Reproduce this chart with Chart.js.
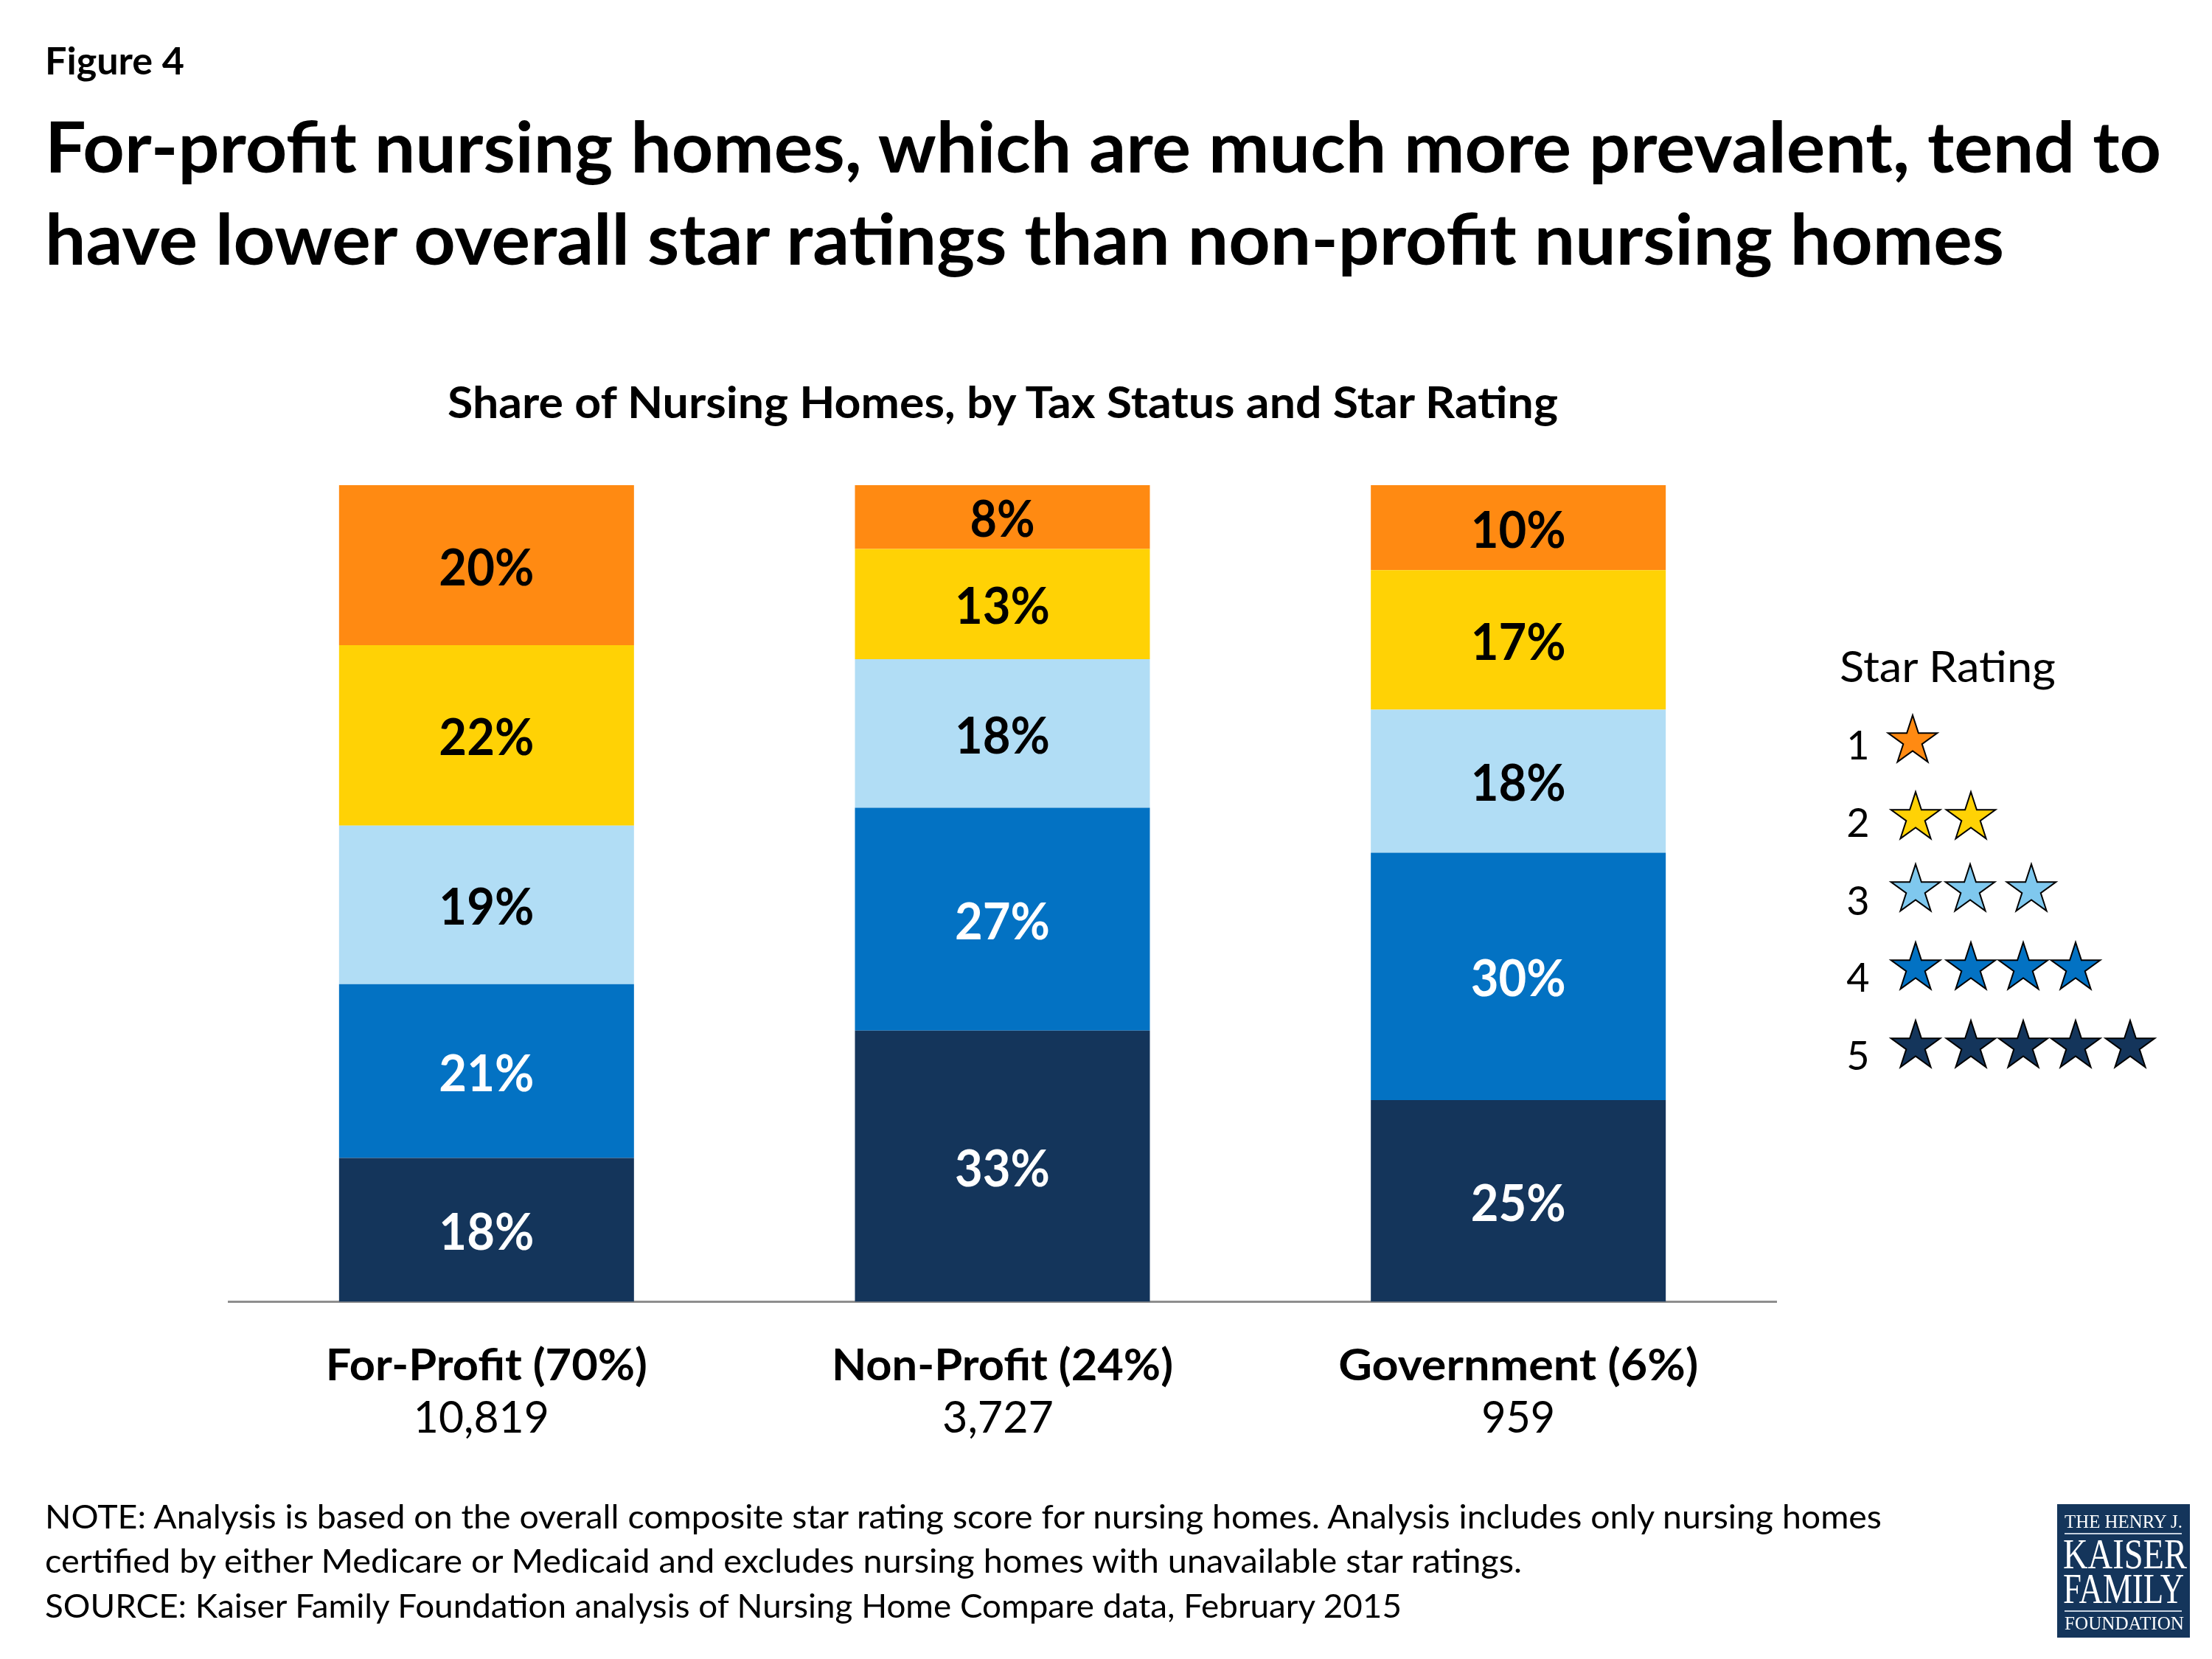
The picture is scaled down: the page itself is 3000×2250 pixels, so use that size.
<!DOCTYPE html>
<html>
<head>
<meta charset="utf-8">
<script src="https://cdn.jsdelivr.net/npm/chart.js@4/dist/chart.umd.min.js"></script>
<style>
  html, body { margin: 0; padding: 0; background: #fff; }
  #page { position: relative; width: 3000px; height: 2250px; overflow: hidden; font-family: Lato, sans-serif; color: #000; }
  #chart { position: absolute; left: 0; top: 0; }
  .t { position: absolute; white-space: nowrap; line-height: 1; transform-origin: 0 0; }
  #logo { position: absolute; left: 2790px; top: 2040px; width: 180px; height: 181px; background: #14355b; }
  #logo .rule { position: absolute; left: 10px; width: 159px; height: 2px; background: #c5d0de; }
  #legendStars { position: absolute; left: 0; top: 0; }
</style>
</head>
<body>
<div id="page">
  <canvas id="chart" width="3000" height="2250"></canvas>
  <svg id="legendStars" width="3000" height="2250"></svg>
  <div id="logo">
    <div class="rule" style="top:39px"></div>
    <div class="rule" style="top:144px"></div>
  </div>
</div>
<script>
const categories = ['For-Profit (70%)', 'Non-Profit (24%)', 'Government (6%)'];
const counts = ['10,819', '3,727', '959'];

// segment heights, the printed labels are rounded
const fiveStar = [17.6, 33.2, 24.7];
const fourStar = [21.3, 27.3, 30.3];
const threeStar = [19.4, 18.2, 17.5];
const twoStar = [22.1, 13.5, 17.1];
const oneStar = [19.6, 7.8, 10.4];

const fiveLabels = ['18%', '33%', '25%'];
const fourLabels = ['21%', '27%', '30%'];
const threeLabels = ['19%', '18%', '18%'];
const twoLabels = ['22%', '13%', '17%'];
const oneLabels = ['20%', '8%', '10%'];

const ratingColors = ['#ff8a12', '#ffd205', '#7fc8ee', '#0372c3', '#14355b'];

// [text, x, baseline, font size, weight, target width]
const texts = [
  ['Figure 4', 61, 100, 52, 700, 189],
  ['For-profit nursing homes, which are much more prevalent, tend to', 61, 233, 96, 700, 2870],
  ['have lower overall star ratings than non-profit nursing homes', 61, 358, 96, 700, 2657],
  ['Share of Nursing Homes, by Tax Status and Star Rating', 607, 566, 60, 700, 1506],
  ['Star Rating', 2495, 924, 58, 400, 293],
  ['NOTE: Analysis is based on the overall composite star rating score for nursing homes. Analysis includes only nursing homes', 61, 2073, 45, 400, 2491],
  ['certified by either Medicare or Medicaid and excludes nursing homes with unavailable star ratings.', 61, 2133, 45, 400, 2003],
  ['SOURCE: Kaiser Family Foundation analysis of Nursing Home Compare data, February 2015', 61, 2194, 45, 400, 1840]
];
const logoTexts = [
  ['THE HENRY J.', 2800, 2072, 25, 400, 160],
  ['KAISER', 2798, 2127, 56, 400, 168],
  ['FAMILY', 2798, 2174, 56, 400, 164],
  ['FOUNDATION', 2800, 2210, 25, 400, 162]
];

const page = document.getElementById('page');
function placeText([str, x, base, size, weight, w], family, baseRatio, color) {
  const el = document.createElement('div');
  el.className = 't';
  el.textContent = str;
  el.style.left = x + 'px';
  el.style.top = (base - size * baseRatio) + 'px';
  el.style.fontSize = size + 'px';
  el.style.fontWeight = weight;
  el.style.fontFamily = family;
  el.style.color = color;
  page.appendChild(el);
  el.style.transform = 'scaleX(' + (w / el.getBoundingClientRect().width) + ')';
}
texts.forEach(t => placeText(t, 'Lato', 0.87, '#000'));
logoTexts.forEach(t => placeText(t, '"Liberation Serif"', 0.8375, '#fff'));

// legend rows, stars are centered on these x positions
const legendNumbers = ['1', '2', '3', '4', '5'];
const legendNumberY = [1030, 1135, 1241, 1345, 1451];
const legendY = [1005, 1109, 1207, 1313, 1419];
const legendStarX = [
  [2594],
  [2598, 2673],
  [2598, 2672, 2755],
  [2598, 2673, 2744, 2815],
  [2598, 2673, 2744, 2815, 2889]
];

const svg = document.getElementById('legendStars');
const starR = 35;
function starPoints(cx, cy) {
  const pts = [];
  for (let i = 0; i < 10; i++) {
    const r = i % 2 ? starR * 0.382 : starR;
    const a = -Math.PI / 2 + i * Math.PI / 5;
    pts.push((cx + r * Math.cos(a)).toFixed(1) + ',' + (cy + r * Math.sin(a)).toFixed(1));
  }
  return pts.join(' ');
}
let starMarkup = '';
legendStarX.forEach((row, i) => {
  row.forEach(x => {
    starMarkup += `<polygon points="${starPoints(x, legendY[i])}" fill="${ratingColors[i]}" stroke="#000" stroke-width="2"/>`;
  });
  starMarkup += `<text x="2520" y="${legendNumberY[i]}" font-size="54" text-anchor="middle" font-family="Lato">${legendNumbers[i]}</text>`;
});
svg.innerHTML = starMarkup;

// draws centered text squeezed to a target width, 0 keeps the natural width
function drawText(ctx, str, x, y, font, color, width) {
  ctx.save();
  ctx.font = font;
  ctx.fillStyle = color;
  ctx.textAlign = 'center';
  ctx.textBaseline = 'alphabetic';
  ctx.translate(x, y);
  ctx.scale(width / ctx.measureText(str).width, 1);
  ctx.fillText(str, 0, 0);
  ctx.restore();
}

// the count line sits a little left of the bar center in the original
const countNudge = [-7, -6, 0];
const categoryWidths = [436, 463, 488];
const countWidths = [184, 151, 100];

// no datalabels plugin here, percent labels and the axis captions are drawn after the bars
const barText = {
  id: 'barText',
  afterDatasetsDraw(chart) {
    const ctx = chart.ctx;
    chart.data.datasets.forEach((ds, d) => {
      chart.getDatasetMeta(d).data.forEach((bar, i) => {
        const mid = (bar.y + bar.base) / 2;
        const str = ds.valueLabels[i];
        drawText(ctx, str, bar.x, mid + 27, '700 68px Lato', ds.labelColor, str.length > 2 ? 129 : 88);
      });
    });
    const x = chart.scales.x;
    categories.forEach((c, i) => {
      const px = x.getPixelForValue(i);
      drawText(ctx, c, px, 1872, '700 60px Lato', '#000', categoryWidths[i]);
      drawText(ctx, counts[i], px + countNudge[i], 1943, '400 60px Lato', '#000', countWidths[i]);
    });
  }
};

new Chart(document.getElementById('chart'), {
  type: 'bar',
  data: {
    labels: categories,
    datasets: [
      { label: '5', data: fiveStar, valueLabels: fiveLabels, backgroundColor: '#14355b', labelColor: '#fff' },
      { label: '4', data: fourStar, valueLabels: fourLabels, backgroundColor: '#0372c3', labelColor: '#fff' },
      { label: '3', data: threeStar, valueLabels: threeLabels, backgroundColor: '#b1ddf5', labelColor: '#000' },
      { label: '2', data: twoStar, valueLabels: twoLabels, backgroundColor: '#ffd205', labelColor: '#000' },
      { label: '1', data: oneStar, valueLabels: oneLabels, backgroundColor: '#ff8a12', labelColor: '#000' }
    ]
  },
  options: {
    responsive: false,
    animation: false,
    devicePixelRatio: 1,
    barPercentage: 0.5717,
    categoryPercentage: 1,
    layout: { padding: { left: 310, right: 591, top: 658, bottom: 0 } },
    plugins: { legend: { display: false }, tooltip: { enabled: false } },
    scales: {
      x: {
        stacked: true,
        z: 1,
        grid: { display: false },
        border: { color: '#8e8e8e', width: 3 },
        ticks: { display: false },
        afterFit(scale) { scale.height = 484.5; }
      },
      y: { stacked: true, min: 0, max: 100, display: false }
    }
  },
  plugins: [barText]
});
</script>
</body>
</html>
